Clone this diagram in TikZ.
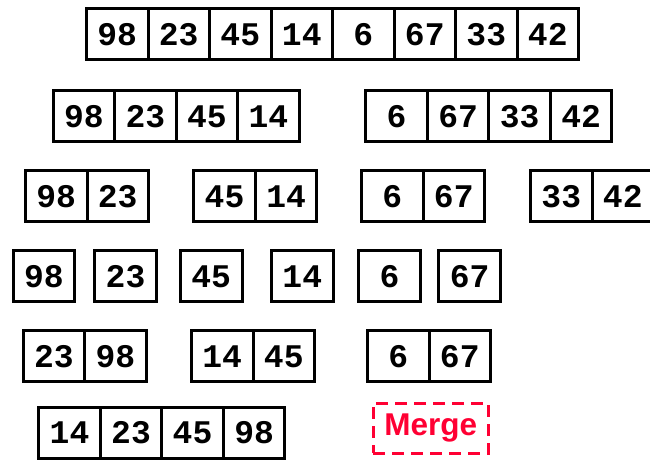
\documentclass[tikz,border=0pt]{standalone}
\usepackage{fontspec}
\newfontfamily\cellfont{Liberation Mono}
\newfontfamily\mergefont{Liberation Sans}
\definecolor{mergered}{RGB}{255,0,51}
\tikzset{
  cell/.style={draw=black, line width=3pt, minimum width=61.5pt, minimum height=51pt,
    inner sep=0pt, text=black, font=\cellfont\bfseries\fontsize{33}{33}\selectfont},
  mergebox/.style={draw=mergered, dash pattern=on 12pt off 7pt, line width=3pt,
    minimum width=115.3pt, minimum height=50.3pt, inner sep=0pt, text=mergered,
    font=\mergefont\bfseries\fontsize{31.5}{31.5}\selectfont}
}
\newcommand\cellrow[4]{%
  \foreach \v [count=\i from 0] in {#4} {
    \node[cell] (#1-\i) at ({#2+\i*61.5}, #3) {\v};
  }%
}
\begin{document}
\begin{tikzpicture}[x=1pt, y=-1pt]
\useasboundingbox (0,0) rectangle (650,460);
% row 1
\cellrow{a}{117.25}{34.3}{98,23,45,14,6,67,33,42}
% row 2
\cellrow{b1}{83.95}{116.3}{98,23,45,14}
\cellrow{b2}{396.55}{116.3}{6,67,33,42}
% row 3
\cellrow{c1}{56.25}{196.3}{98,23}
\cellrow{c2}{224.55}{196.3}{45,14}
\cellrow{c3}{392.25}{196.3}{6,67}
\cellrow{c4}{561.25}{196.3}{33,42}
% row 4
\cellrow{d1}{43.95}{276.3}{98}
\cellrow{d2}{125.55}{276.3}{23}
\cellrow{d3}{211.25}{276.3}{45}
\cellrow{d4}{302.25}{276.3}{14}
\cellrow{d5}{389.55}{276.3}{6}
\cellrow{d6}{469.55}{276.3}{67}
% row 5
\cellrow{e1}{53.95}{356.3}{23,98}
\cellrow{e2}{222.25}{356.3}{14,45}
\cellrow{e3}{398.25}{356.3}{6,67}
% row 6
\cellrow{f1}{69.55}{432.5}{14,23,45,98}
\node[mergebox] (merge) at (430.8,428.3) {Merge};
\end{tikzpicture}
\end{document}
